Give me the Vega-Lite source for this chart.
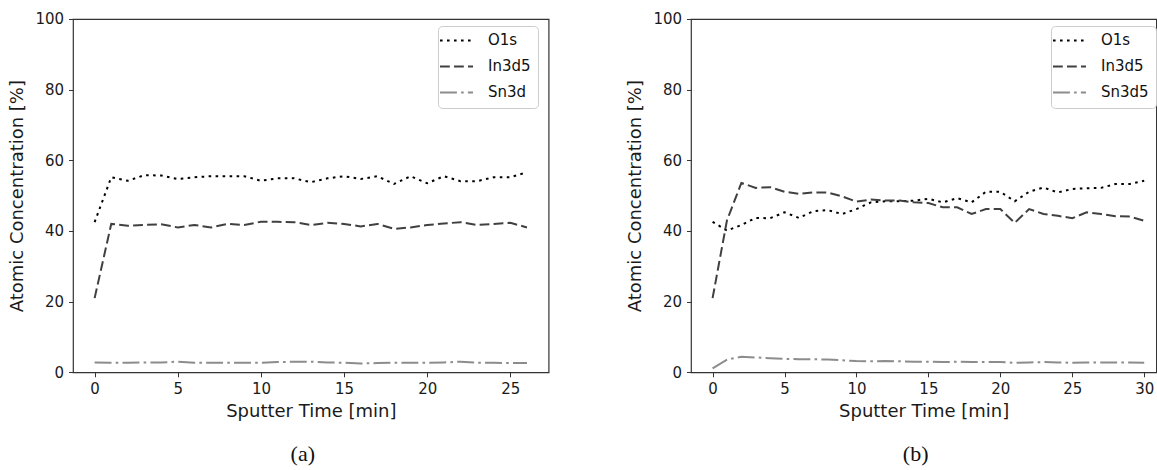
{
  "$schema": "https://vega.github.io/schema/vega-lite/v6.json",
  "padding": {"left": 8, "top": 11, "right": 0, "bottom": 0},
  "autosize": {"type": "pad"},
  "background": "white",
  "config": {
    "font": "DejaVu Sans",
    "view": {"stroke": "#333333", "strokeWidth": 1.2},
    "axis": {
      "grid": false,
      "domain": false,
      "ticks": true,
      "tickColor": "#333333",
      "tickSize": 4.5,
      "tickWidth": 1,
      "labelFont": "DejaVu Sans",
      "labelFontSize": 15,
      "labelColor": "#1a1a1a",
      "labelPadding": 5,
      "titleFont": "DejaVu Sans",
      "titleFontSize": 18,
      "titleFontWeight": "normal",
      "titleColor": "#1a1a1a"
    },
    "axisY": {"titlePadding": 8},
    "axisX": {"titlePadding": 6},
    "legend": {
      "orient": "none",
      "legendY": 7,
      "title": null,
      "symbolType": "M-3,0H3",
      "symbolSize": 121,
      "symbolStrokeWidth": 2,
      "labelFont": "DejaVu Sans",
      "labelFontSize": 15,
      "labelColor": "#111111",
      "labelOffset": 24,
      "symbolOffset": 4,
      "rowPadding": 10,
      "padding": 7,
      "fillColor": "white",
      "strokeColor": "#cccccc",
      "cornerRadius": 4
    },
    "title": {
      "font": "Liberation Serif",
      "fontSize": 22,
      "fontWeight": "normal",
      "color": "#111111",
      "orient": "bottom",
      "anchor": "middle",
      "offset": 23
    }
  },
  "datasets": {
    "panel_a": [
      {"t": 0, "series": "O1s", "value": 42.5}, {"t": 1, "series": "O1s", "value": 55.2}, {"t": 2, "series": "O1s", "value": 54.2},
      {"t": 3, "series": "O1s", "value": 55.8}, {"t": 4, "series": "O1s", "value": 55.7}, {"t": 5, "series": "O1s", "value": 54.7},
      {"t": 6, "series": "O1s", "value": 55.2}, {"t": 7, "series": "O1s", "value": 55.5}, {"t": 8, "series": "O1s", "value": 55.5},
      {"t": 9, "series": "O1s", "value": 55.5}, {"t": 10, "series": "O1s", "value": 54.2}, {"t": 11, "series": "O1s", "value": 54.9},
      {"t": 12, "series": "O1s", "value": 54.9}, {"t": 13, "series": "O1s", "value": 53.8}, {"t": 14, "series": "O1s", "value": 54.9},
      {"t": 15, "series": "O1s", "value": 55.5}, {"t": 16, "series": "O1s", "value": 54.7}, {"t": 17, "series": "O1s", "value": 55.5},
      {"t": 18, "series": "O1s", "value": 53.3}, {"t": 19, "series": "O1s", "value": 55.5}, {"t": 20, "series": "O1s", "value": 53.5},
      {"t": 21, "series": "O1s", "value": 55.5}, {"t": 22, "series": "O1s", "value": 54.1}, {"t": 23, "series": "O1s", "value": 54.1},
      {"t": 24, "series": "O1s", "value": 55.2}, {"t": 25, "series": "O1s", "value": 55.2}, {"t": 26, "series": "O1s", "value": 56.6},
      {"t": 0, "series": "In3d5", "value": 21.0}, {"t": 1, "series": "In3d5", "value": 42.0}, {"t": 2, "series": "In3d5", "value": 41.5},
      {"t": 3, "series": "In3d5", "value": 41.7}, {"t": 4, "series": "In3d5", "value": 41.9}, {"t": 5, "series": "In3d5", "value": 41.0},
      {"t": 6, "series": "In3d5", "value": 41.7}, {"t": 7, "series": "In3d5", "value": 41.0}, {"t": 8, "series": "In3d5", "value": 42.0},
      {"t": 9, "series": "In3d5", "value": 41.7}, {"t": 10, "series": "In3d5", "value": 42.6}, {"t": 11, "series": "In3d5", "value": 42.6},
      {"t": 12, "series": "In3d5", "value": 42.5}, {"t": 13, "series": "In3d5", "value": 41.7}, {"t": 14, "series": "In3d5", "value": 42.3},
      {"t": 15, "series": "In3d5", "value": 42.0}, {"t": 16, "series": "In3d5", "value": 41.3}, {"t": 17, "series": "In3d5", "value": 42.0},
      {"t": 18, "series": "In3d5", "value": 40.6}, {"t": 19, "series": "In3d5", "value": 41.0}, {"t": 20, "series": "In3d5", "value": 41.7},
      {"t": 21, "series": "In3d5", "value": 42.1}, {"t": 22, "series": "In3d5", "value": 42.5}, {"t": 23, "series": "In3d5", "value": 41.7},
      {"t": 24, "series": "In3d5", "value": 42.0}, {"t": 25, "series": "In3d5", "value": 42.3}, {"t": 26, "series": "In3d5", "value": 41.0},
      {"t": 0, "series": "Sn3d", "value": 2.8}, {"t": 1, "series": "Sn3d", "value": 2.7}, {"t": 2, "series": "Sn3d", "value": 2.7},
      {"t": 3, "series": "Sn3d", "value": 2.8}, {"t": 4, "series": "Sn3d", "value": 2.8}, {"t": 5, "series": "Sn3d", "value": 3.0},
      {"t": 6, "series": "Sn3d", "value": 2.7}, {"t": 7, "series": "Sn3d", "value": 2.7}, {"t": 8, "series": "Sn3d", "value": 2.7},
      {"t": 9, "series": "Sn3d", "value": 2.7}, {"t": 10, "series": "Sn3d", "value": 2.7}, {"t": 11, "series": "Sn3d", "value": 2.9},
      {"t": 12, "series": "Sn3d", "value": 3.0}, {"t": 13, "series": "Sn3d", "value": 3.0}, {"t": 14, "series": "Sn3d", "value": 2.8},
      {"t": 15, "series": "Sn3d", "value": 2.7}, {"t": 16, "series": "Sn3d", "value": 2.5}, {"t": 17, "series": "Sn3d", "value": 2.6},
      {"t": 18, "series": "Sn3d", "value": 2.7}, {"t": 19, "series": "Sn3d", "value": 2.7}, {"t": 20, "series": "Sn3d", "value": 2.7},
      {"t": 21, "series": "Sn3d", "value": 2.8}, {"t": 22, "series": "Sn3d", "value": 3.0}, {"t": 23, "series": "Sn3d", "value": 2.7},
      {"t": 24, "series": "Sn3d", "value": 2.7}, {"t": 25, "series": "Sn3d", "value": 2.6}, {"t": 26, "series": "Sn3d", "value": 2.6}
    ],
    "panel_b": [
      {"t": 0, "series": "O1s", "value": 42.6}, {"t": 1, "series": "O1s", "value": 40.1}, {"t": 2, "series": "O1s", "value": 41.7},
      {"t": 3, "series": "O1s", "value": 43.7}, {"t": 4, "series": "O1s", "value": 43.6}, {"t": 5, "series": "O1s", "value": 45.3},
      {"t": 6, "series": "O1s", "value": 43.7}, {"t": 7, "series": "O1s", "value": 45.6}, {"t": 8, "series": "O1s", "value": 45.9},
      {"t": 9, "series": "O1s", "value": 44.8}, {"t": 10, "series": "O1s", "value": 46.2}, {"t": 11, "series": "O1s", "value": 48.1},
      {"t": 12, "series": "O1s", "value": 48.4}, {"t": 13, "series": "O1s", "value": 48.4}, {"t": 14, "series": "O1s", "value": 48.6},
      {"t": 15, "series": "O1s", "value": 49.1}, {"t": 16, "series": "O1s", "value": 48.1}, {"t": 17, "series": "O1s", "value": 49.3},
      {"t": 18, "series": "O1s", "value": 48.1}, {"t": 19, "series": "O1s", "value": 51.1}, {"t": 20, "series": "O1s", "value": 51.1},
      {"t": 21, "series": "O1s", "value": 48.4}, {"t": 22, "series": "O1s", "value": 51.1}, {"t": 23, "series": "O1s", "value": 52.3},
      {"t": 24, "series": "O1s", "value": 50.9}, {"t": 25, "series": "O1s", "value": 51.9}, {"t": 26, "series": "O1s", "value": 52.1},
      {"t": 27, "series": "O1s", "value": 52.2}, {"t": 28, "series": "O1s", "value": 53.3}, {"t": 29, "series": "O1s", "value": 53.3},
      {"t": 30, "series": "O1s", "value": 54.2},
      {"t": 0, "series": "In3d5", "value": 21.0}, {"t": 1, "series": "In3d5", "value": 43.0}, {"t": 2, "series": "In3d5", "value": 53.6},
      {"t": 3, "series": "In3d5", "value": 52.2}, {"t": 4, "series": "In3d5", "value": 52.4}, {"t": 5, "series": "In3d5", "value": 51.1},
      {"t": 6, "series": "In3d5", "value": 50.5}, {"t": 7, "series": "In3d5", "value": 50.9}, {"t": 8, "series": "In3d5", "value": 50.9},
      {"t": 9, "series": "In3d5", "value": 49.8}, {"t": 10, "series": "In3d5", "value": 48.3}, {"t": 11, "series": "In3d5", "value": 48.9},
      {"t": 12, "series": "In3d5", "value": 48.6}, {"t": 13, "series": "In3d5", "value": 48.6}, {"t": 14, "series": "In3d5", "value": 48.1},
      {"t": 15, "series": "In3d5", "value": 47.9}, {"t": 16, "series": "In3d5", "value": 46.7}, {"t": 17, "series": "In3d5", "value": 46.7},
      {"t": 18, "series": "In3d5", "value": 44.8}, {"t": 19, "series": "In3d5", "value": 46.2}, {"t": 20, "series": "In3d5", "value": 46.2},
      {"t": 21, "series": "In3d5", "value": 42.3}, {"t": 22, "series": "In3d5", "value": 46.2}, {"t": 23, "series": "In3d5", "value": 44.8},
      {"t": 24, "series": "In3d5", "value": 44.3}, {"t": 25, "series": "In3d5", "value": 43.6}, {"t": 26, "series": "In3d5", "value": 45.3},
      {"t": 27, "series": "In3d5", "value": 44.8}, {"t": 28, "series": "In3d5", "value": 44.2}, {"t": 29, "series": "In3d5", "value": 44.1},
      {"t": 30, "series": "In3d5", "value": 42.9},
      {"t": 0, "series": "Sn3d5", "value": 1.1}, {"t": 1, "series": "Sn3d5", "value": 3.6}, {"t": 2, "series": "Sn3d5", "value": 4.4},
      {"t": 3, "series": "Sn3d5", "value": 4.2}, {"t": 4, "series": "Sn3d5", "value": 4.0}, {"t": 5, "series": "Sn3d5", "value": 3.8},
      {"t": 6, "series": "Sn3d5", "value": 3.7}, {"t": 7, "series": "Sn3d5", "value": 3.7}, {"t": 8, "series": "Sn3d5", "value": 3.6},
      {"t": 9, "series": "Sn3d5", "value": 3.4}, {"t": 10, "series": "Sn3d5", "value": 3.2}, {"t": 11, "series": "Sn3d5", "value": 3.1},
      {"t": 12, "series": "Sn3d5", "value": 3.2}, {"t": 13, "series": "Sn3d5", "value": 3.1}, {"t": 14, "series": "Sn3d5", "value": 3.0},
      {"t": 15, "series": "Sn3d5", "value": 3.0}, {"t": 16, "series": "Sn3d5", "value": 2.9}, {"t": 17, "series": "Sn3d5", "value": 3.0},
      {"t": 18, "series": "Sn3d5", "value": 2.9}, {"t": 19, "series": "Sn3d5", "value": 2.9}, {"t": 20, "series": "Sn3d5", "value": 2.9},
      {"t": 21, "series": "Sn3d5", "value": 2.7}, {"t": 22, "series": "Sn3d5", "value": 2.8}, {"t": 23, "series": "Sn3d5", "value": 2.9},
      {"t": 24, "series": "Sn3d5", "value": 2.8}, {"t": 25, "series": "Sn3d5", "value": 2.7}, {"t": 26, "series": "Sn3d5", "value": 2.8},
      {"t": 27, "series": "Sn3d5", "value": 2.8}, {"t": 28, "series": "Sn3d5", "value": 2.8}, {"t": 29, "series": "Sn3d5", "value": 2.8},
      {"t": 30, "series": "Sn3d5", "value": 2.7}
    ]
  },
  "spacing": 76,
  "resolve": {
    "scale": {"color": "independent", "strokeDash": "independent", "x": "independent", "y": "independent"},
    "legend": {"color": "independent", "strokeDash": "independent"}
  },
  "hconcat": [
    {
      "width": 475.6,
      "height": 353.3,
      "data": {"name": "panel_a"},
      "title": {"text": "(a)", "dx": -8},
      "mark": {"type": "line", "strokeWidth": 2, "strokeCap": "butt"},
      "encoding": {
        "x": {
          "field": "t", "type": "quantitative",
          "scale": {"domain": [-1.3, 27.3], "nice": false, "zero": false},
          "axis": {"values": [0, 5, 10, 15, 20, 25], "title": "Sputter Time [min]"}
        },
        "y": {
          "field": "value", "type": "quantitative",
          "scale": {"domain": [0, 100], "nice": false},
          "axis": {"values": [0, 20, 40, 60, 80, 100], "title": "Atomic Concentration [%]"}
        },
        "color": {
          "field": "series", "type": "nominal",
          "scale": {"domain": ["O1s", "In3d5", "Sn3d"], "range": ["#000000", "#404040", "#8c8c8c"]},
          "legend": {"legendX": 365}
        },
        "strokeDash": {
          "field": "series", "type": "nominal",
          "scale": {"domain": ["O1s", "In3d5", "Sn3d"], "range": [[2.6, 4.4], [9.8, 4.2], [16.9, 4.2, 2.6, 4.2]]},
          "legend": {"legendX": 365}
        }
      }
    },
    {
      "width": 465.3,
      "height": 353.3,
      "data": {"name": "panel_b"},
      "title": {"text": "(b)", "dx": -8},
      "mark": {"type": "line", "strokeWidth": 2, "strokeCap": "butt"},
      "encoding": {
        "x": {
          "field": "t", "type": "quantitative",
          "scale": {"domain": [-1.5, 30.84], "nice": false, "zero": false},
          "axis": {"values": [0, 5, 10, 15, 20, 25, 30], "title": "Sputter Time [min]"}
        },
        "y": {
          "field": "value", "type": "quantitative",
          "scale": {"domain": [0, 100], "nice": false},
          "axis": {"values": [0, 20, 40, 60, 80, 100], "title": "Atomic Concentration [%]"}
        },
        "color": {
          "field": "series", "type": "nominal",
          "scale": {"domain": ["O1s", "In3d5", "Sn3d5"], "range": ["#000000", "#404040", "#8c8c8c"]},
          "legend": {"legendX": 360}
        },
        "strokeDash": {
          "field": "series", "type": "nominal",
          "scale": {"domain": ["O1s", "In3d5", "Sn3d5"], "range": [[2.6, 4.4], [9.8, 4.2], [16.9, 4.2, 2.6, 4.2]]},
          "legend": {"legendX": 360}
        }
      }
    }
  ]
}
